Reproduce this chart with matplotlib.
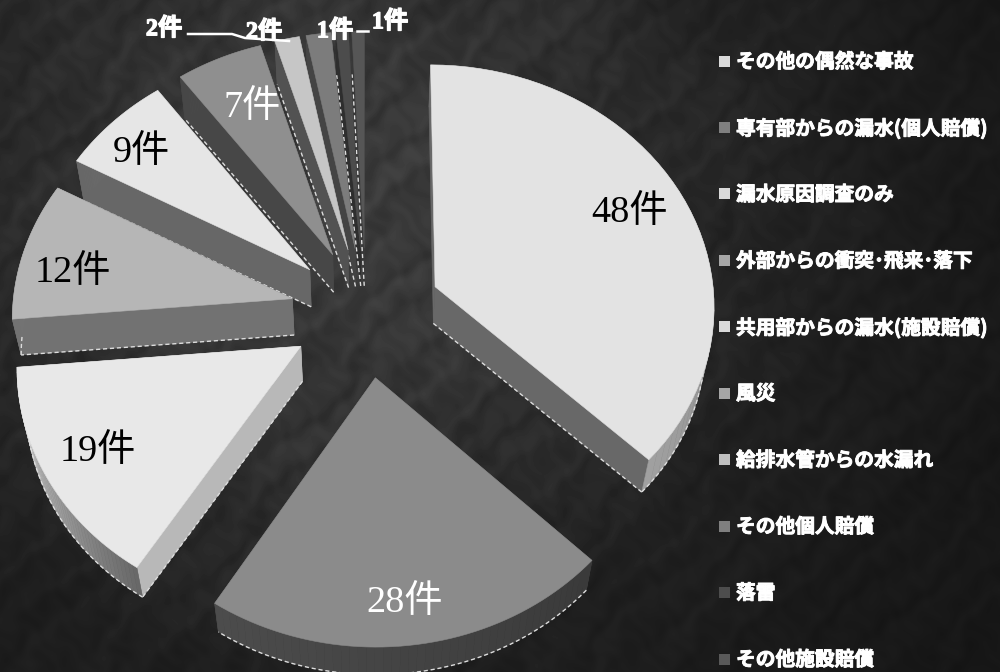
import numpy as np
import matplotlib
matplotlib.use('Agg')
import matplotlib.pyplot as plt
import matplotlib.patheffects as pe
from matplotlib.patches import Polygon, Rectangle

# Claim counts by cause
categories = ['その他の偶然な事故', '専有部からの漏水(個人賠償)', '漏水原因調査のみ',
              '外部からの衝突･飛来･落下', '共用部からの漏水(施設賠償)', '風災',
              '給排水管からの水漏れ', 'その他個人賠償', '落雷', 'その他施設賠償']
counts = [48, 28, 19, 12, 9, 7, 2, 2, 1, 1]

# Face and wall shades for each slice
top_colors = ['#e3e3e3', '#8b8b8b', '#e8e8e8', '#b6b6b6', '#e6e6e6',
              '#8f8f8f', '#c6c6c6', '#7c7c7c', '#4c4c4c', '#565656']
legend_colors = ['#d9d9d9', '#7f7f7f', '#d9d9d9', '#a6a6a6', '#d9d9d9',
                 '#a6a6a6', '#bfbfbf', '#7f7f7f', '#4d4d4d', '#595959']
side_colors = ['#686868', '#444444', '#b8b8b8', '#727272', '#676767',
               '#474747', '#525252', '#444444', '#2e2e2e', '#383838']
rim_start = ['#6c6c6c', '#3a3a3a', '#686868', '#727272', '#676767',
             '#474747', '#525252', '#444444', '#2e2e2e', '#383838']
rim_end = ['#a0a0a0', '#4c4c4c', '#dcdcdc', '#7c7c7c', '#707070',
           '#4e4e4e', '#525252', '#444444', '#2e2e2e', '#383838']

# Projection of the tilted pie
cx, cy = 366, 312
radius = 280
tilt = 0.86
persist = 0.07
explode = 0.27
depth = 36
floor_scale = 0.975

W, H = 1000, 672
fig = plt.figure(figsize=(W / 100, H / 100), dpi=100)
ax = fig.add_axes([0, 0, 1, 1])
ax.set_xlim(0, W)
ax.set_ylim(H, 0)
ax.axis('off')

# Dark mottled backdrop, brighter behind the pie
yy, xx = np.mgrid[0:H, 0:W]
glow = np.exp(-(((xx - 330) / 430.0) ** 2 + ((yy - 200) / 420.0) ** 2))
wx = xx + 9 * np.sin(yy / 23.0) + 5 * np.sin(yy / 7.0 + xx / 11.0)
wy = yy + 9 * np.sin(xx / 19.0) + 5 * np.cos(xx / 6.0 - yy / 13.0)
motif = (np.sin(wx / 5.0) * np.sin(wy / 6.0) + np.sin((wx + wy) / 9.0)
         + 0.7 * np.sin(wx / 41.0) * np.cos(wy / 37.0)) / 2.7
bg = 0.085 + 0.145 * glow + motif * (0.012 + 0.035 * glow)
ax.imshow(np.clip(bg, 0, 1), cmap='gray', vmin=0, vmax=1, extent=(0, W, H, 0),
          aspect='auto', zorder=0, interpolation='bilinear')


def project(u, v, floor=False):
    s = 1.0 / (1.0 + persist * v)
    x = radius * u * s
    y = -radius * tilt * v * s
    if floor:
        return cx + x * floor_scale, cy + y * floor_scale + depth
    return cx + x, cy + y


def ring(start, stop, mid, n=50):
    t = np.linspace(start, stop, n)
    ou = explode * np.sin(np.radians(mid))
    ov = explode * np.cos(np.radians(mid))
    return t, ou, ov, ou + np.sin(np.radians(t)), ov + np.cos(np.radians(t))


def quad(a, b, c, d, color, z):
    ax.add_patch(Polygon([a, b, c, d], closed=True, fc=color, ec=color, lw=0.4, zorder=z))


def dashed(xs, ys, z):
    ax.plot(xs, ys, color='#dddddd', lw=1.0, ls=(0, (3, 2)), zorder=z)


edges = np.concatenate([[0], np.cumsum(counts)]) * 360.0 / sum(counts)
mids = (edges[:-1] + edges[1:]) / 2

# Far slices first so nearer ones overlap them
draw_order = np.argsort(-np.cos(np.radians(mids)))
for z, i in enumerate(draw_order):
    z = 2 + z * 3
    t, ou, ov, u, v = ring(edges[i], edges[i + 1], mids[i])
    tx, ty = project(u, v)
    bx, by = project(u, v, floor=True)
    ax_top = project(ou, ov)
    ax_bot = project(ou, ov, floor=True)

    # radial walls
    quad(ax_top, (tx[0], ty[0]), (bx[0], by[0]), ax_bot, side_colors[i], z)
    quad(ax_top, (tx[-1], ty[-1]), (bx[-1], by[-1]), ax_bot, side_colors[i], z)

    # outer rim, shaded along the arc
    c0 = int(rim_start[i][1:3], 16)
    c1 = int(rim_end[i][1:3], 16)
    for k in range(len(u) - 1):
        g = (c0 + (c1 - c0) * k / (len(u) - 2)) / 255.0
        quad((tx[k], ty[k]), (tx[k + 1], ty[k + 1]), (bx[k + 1], by[k + 1]),
             (bx[k], by[k]), (g, g, g), z)

    # dashed pale edge along the underside, only where it faces the viewer
    front = np.cos(np.radians(t)) < 0
    if front.any():
        dashed(bx[front], by[front], z)
    if np.sin(np.radians(edges[i])) < 0:
        dashed([ax_bot[0], bx[0]], [ax_bot[1], by[0]], z)
    if np.sin(np.radians(edges[i + 1])) > 0:
        dashed([ax_bot[0], bx[-1]], [ax_bot[1], by[-1]], z)

    # top face
    ax.add_patch(Polygon(np.c_[np.r_[ax_top[0], tx], np.r_[ax_top[1], ty]], closed=True,
                         fc=top_colors[i], ec=top_colors[i], lw=0.4, zorder=z + 1))

# Count labels
label_xy = [(630, 213), (405, 603), (98, 452), (73, 273), (141, 153),
            (252, 108), (164, 29), (264, 32), (335, 31), (390, 22)]
label_color = ['black', 'white', 'black', 'black', 'black',
               'white', 'white', 'white', 'white', 'white']
serif = ['Liberation Serif', 'Noto Sans CJK JP']
for i, n in enumerate(counts):
    small = n <= 2
    t = ax.text(label_xy[i][0], label_xy[i][1], f'{n}件', family=serif,
                fontsize=17.5 if small else 27.5, color=label_color[i],
                ha='center', va='center', zorder=60,
                fontweight='bold' if small else 'normal')
    if small:
        t.set_path_effects([pe.withStroke(linewidth=0.9, foreground='white')])

# Leader lines for the thin slices
ax.plot([188, 232, 245, 289], [34, 34, 38, 41], color='white', lw=1.8, zorder=59)
ax.plot([357, 368], [31, 31], color='white', lw=1.8, zorder=59)

# Legend column
legend_y = np.linspace(62, 660, len(categories))
for name, c, y in zip(categories, legend_colors, legend_y):
    ax.add_patch(Rectangle((719, y - 6.5), 11, 11, fc=c, ec='none', zorder=60))
    t = ax.text(736, y, name, family=['Noto Sans CJK JP', 'DejaVu Sans'], fontsize=14.2,
                fontweight='bold', color='white', ha='left', va='center', zorder=60)
    t.set_path_effects([pe.withStroke(linewidth=0.7, foreground='white')])

fig.savefig('out.png', dpi=100)
